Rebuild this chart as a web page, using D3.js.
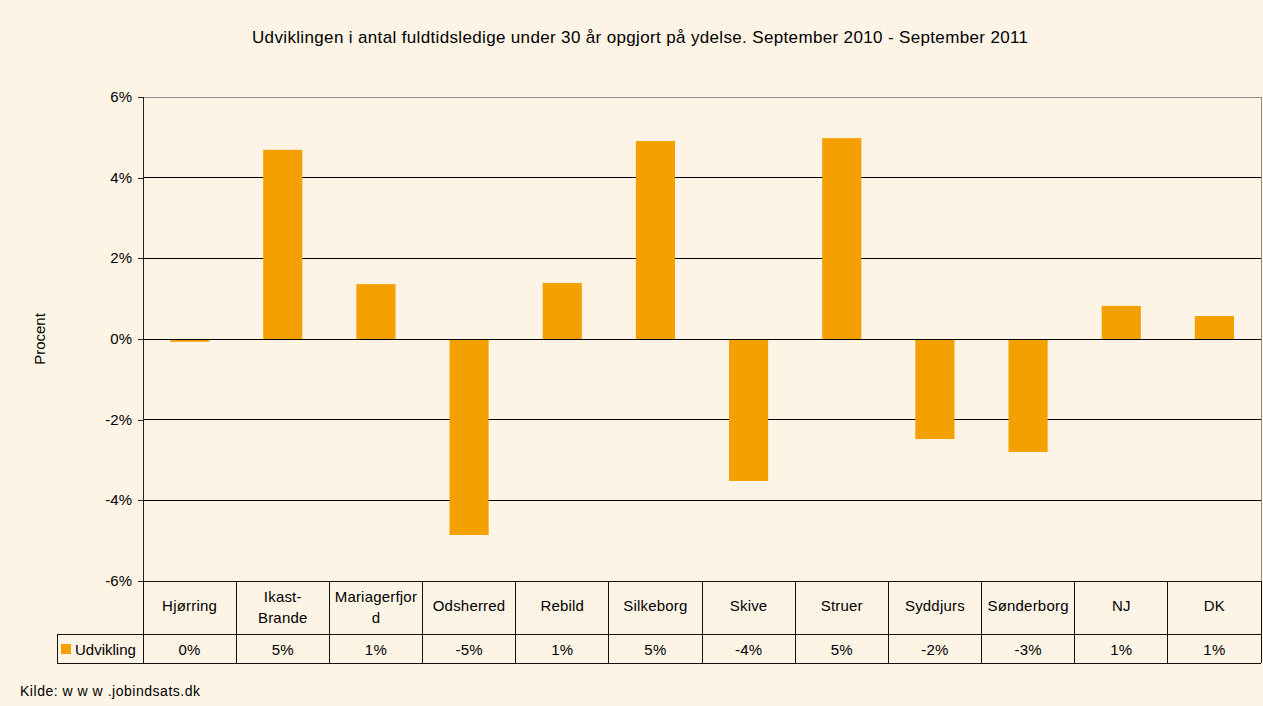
<!DOCTYPE html>
<html><head><meta charset="utf-8">
<script src="https://cdn.jsdelivr.net/npm/d3@7"></script>
<style>
html,body{margin:0;padding:0;background:#fdf4e6;}
svg{display:block;font-family:"Liberation Sans",Arial,sans-serif;}
</style></head>
<body>
<svg id="c" width="1263" height="706"></svg>
<script>
const categories = ["Hjørring","Ikast-Brande","Mariagerfjord","Odsherred","Rebild","Silkeborg","Skive","Struer","Syddjurs","Sønderborg","NJ","DK"];
const categoryLines = [["Hjørring"],["Ikast-","Brande"],["Mariagerfjor","d"],["Odsherred"],["Rebild"],["Silkeborg"],["Skive"],["Struer"],["Syddjurs"],["Sønderborg"],["NJ"],["DK"]];
const values = [-0.07, 4.69, 1.36, -4.86, 1.39, 4.91, -3.52, 4.98, -2.48, -2.80, 0.82, 0.57];
const tableLabels = ["0%","5%","1%","-5%","1%","5%","-4%","5%","-2%","-3%","1%","1%"];
const yTicks = [-6,-4,-2,0,2,4,6];
const seriesName = "Udvikling";
const title = "Udviklingen i antal fuldtidsledige under 30 år opgjort på ydelse. September 2010 - September 2011";
const yLabel = "Procent";
const source = "Kilde: w w w .jobindsats.dk";

const bg = "#fdf4e6", barColor = "#f4a000";
const svg = d3.select("#c");
svg.append("rect").attr("width",1263).attr("height",706).attr("fill",bg);

const L = 143, R = 1261, T = 97, B = 581;
const x = d3.scaleBand().domain(categories).range([L,R]).paddingInner(0.58).paddingOuter(0.29);
const y = d3.scaleLinear().domain([-6,6]).range([B,T]);

// gridlines
svg.append("g").selectAll("line").data(yTicks.filter(d=>d!==6 && d!==-6)).join("line")
  .attr("x1",L).attr("x2",R).attr("y1",d=>y(d)).attr("y2",d=>y(d))
  .attr("stroke","#000").attr("stroke-width",1).attr("shape-rendering","crispEdges");
// plot border top & right
svg.append("line").attr("x1",L).attr("x2",R).attr("y1",T).attr("y2",T).attr("stroke","#8c8c8c").attr("shape-rendering","crispEdges");
svg.append("line").attr("x1",R).attr("x2",R).attr("y1",T).attr("y2",B).attr("stroke","#8c8c8c").attr("shape-rendering","crispEdges");

// bars
svg.append("g").selectAll("rect").data(values).join("rect")
  .attr("x",(d,i)=>x(categories[i]))
  .attr("width",x.bandwidth())
  .attr("y",d=>y(Math.max(0,d)))
  .attr("height",d=>Math.abs(y(d)-y(0)))
  .attr("fill",barColor);

// redraw zero line above bars
svg.append("line").attr("x1",L).attr("x2",R).attr("y1",y(0)).attr("y2",y(0)).attr("stroke","#000").attr("shape-rendering","crispEdges");

// y axis
const yAxis = d3.axisLeft(y).tickValues(yTicks).tickSize(5).tickPadding(6).tickFormat(d=>d+"%");
const ga = svg.append("g").attr("transform",`translate(${L},0)`).call(yAxis);
ga.select(".domain").attr("stroke","#222").attr("shape-rendering","crispEdges");
ga.selectAll(".tick line").attr("stroke","#222").attr("shape-rendering","crispEdges");
ga.selectAll(".tick text").attr("font-size",15).attr("fill","#000").attr("font-family","Liberation Sans, Arial, sans-serif").attr("dy","0.3em");

// table
const rowTop = B, rowMid = 634, rowBot = 663, legendLeft = 57;
const tg = svg.append("g").attr("stroke","#111").attr("shape-rendering","crispEdges");
tg.append("line").attr("x1",L).attr("x2",R).attr("y1",rowTop).attr("y2",rowTop);
tg.append("line").attr("x1",legendLeft).attr("x2",R).attr("y1",rowMid).attr("y2",rowMid);
tg.append("line").attr("x1",legendLeft).attr("x2",R).attr("y1",rowBot).attr("y2",rowBot);
tg.append("line").attr("x1",legendLeft).attr("x2",legendLeft).attr("y1",rowMid).attr("y2",rowBot);
tg.selectAll("line.v").data(categories).join("line").attr("class","v")
  .attr("x1",(d)=>x(d)-(x.step()-x.bandwidth())/2).attr("x2",(d)=>x(d)-(x.step()-x.bandwidth())/2)
  .attr("y1",rowTop).attr("y2",rowBot);
tg.append("line").attr("x1",R).attr("x2",R).attr("y1",rowTop).attr("y2",rowBot);

// header labels
const hg = svg.append("g").attr("font-size",15).attr("fill","#000").attr("text-anchor","middle").attr("letter-spacing","0.2px");
categories.forEach((c,i)=>{
  const cx = x(c)+x.bandwidth()/2;
  const lines = categoryLines[i];
  const t = hg.append("text").attr("x",cx);
  if(lines.length===1){
    t.append("tspan").attr("x",cx).attr("y",611).text(lines[0]);
  } else {
    t.append("tspan").attr("x",cx).attr("y",602).text(lines[0]);
    t.append("tspan").attr("x",cx).attr("y",623).text(lines[1]);
  }
  hg.append("text").attr("x",cx).attr("y",655).text(tableLabels[i]);
});
// legend cell
svg.append("rect").attr("x",61).attr("y",644).attr("width",10).attr("height",10).attr("fill",barColor);
svg.append("text").attr("x",75).attr("y",655).attr("font-size",15).attr("fill","#000").text(seriesName);

// title
svg.append("text").attr("x",252).attr("y",43).attr("font-size",17).attr("fill","#000")
  .attr("textLength",776).attr("lengthAdjust","spacing").text(title);
// y label
svg.append("text").attr("transform","translate(45,339) rotate(-90)").attr("text-anchor","middle").attr("font-size",15).attr("fill","#000").text(yLabel);
// source
svg.append("text").attr("x",20).attr("y",696).attr("font-size",14).attr("fill","#000")
  .attr("textLength",180).attr("lengthAdjust","spacing").text(source);
</script>
</body></html>
